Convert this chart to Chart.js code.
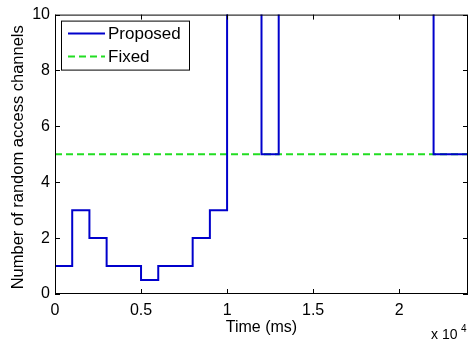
<!DOCTYPE html>
<html><head><meta charset="utf-8">
<script src="https://cdn.jsdelivr.net/npm/chart.js@4"></script>
<style>html,body{margin:0;padding:0;background:#fff}#wrap{width:470px;height:339px}</style>
</head><body><div id="wrap"><canvas id="c" width="470" height="339"></canvas></div>
<script>
const timeMs = [0,1000,2000,3000,5000,6000,8000,9000,10000,12000,13000,22000,24000];
const proposed = [1,3,2,1,0.5,1,2,3,14,5,14,5,5];
const fixedX = [0,24000];
const fixedY = [5,5];
const xTicks = [0,5000,10000,15000,20000];
const yTicks = [0,2,4,6,8,10];
const seriesNames = ['Proposed','Fixed'];
const xTitle = 'Time (ms)';
const yTitle = 'Number of random access channels';

const FONT = '"Liberation Sans", Arial, sans-serif';

const boxPlugin = {
  id:'box',
  afterDraw(chart){
    const {ctx, chartArea:a, scales:{x,y}} = chart;
    ctx.save();
    ctx.strokeStyle='#000'; ctx.lineWidth=1;
    ctx.strokeRect(a.left+0.5,a.top+0.5,a.right-a.left-1,a.bottom-a.top-1);
    ctx.beginPath();
    xTicks.forEach(v=>{const px=Math.round(x.getPixelForValue(v))+0.5;
      ctx.moveTo(px,a.bottom);ctx.lineTo(px,a.bottom-5);
      ctx.moveTo(px,a.top);ctx.lineTo(px,a.top+5);});
    yTicks.forEach(v=>{const py=Math.round(y.getPixelForValue(v))+0.5;
      ctx.moveTo(a.left,py);ctx.lineTo(a.left+5,py);
      ctx.moveTo(a.right,py);ctx.lineTo(a.right-5,py);});
    ctx.stroke();
    // legend
    const lx=a.left+6, ly=a.top+6, lw=129, lh=50;
    ctx.fillStyle='#fff'; ctx.fillRect(lx,ly,lw,lh);
    ctx.strokeRect(lx+0.5,ly+0.5,lw-1,lh-1);
    ctx.font='17px '+FONT; ctx.textBaseline='middle'; ctx.fillStyle='#000';
    ctx.strokeStyle='#0000cc'; ctx.lineWidth=2; ctx.setLineDash([]);
    ctx.beginPath(); ctx.moveTo(lx+7,ly+13); ctx.lineTo(lx+44,ly+13); ctx.stroke();
    ctx.fillText(seriesNames[0], lx+47, ly+14);
    ctx.strokeStyle='#22dd22'; ctx.setLineDash([7,4]);
    ctx.beginPath(); ctx.moveTo(lx+7,ly+36); ctx.lineTo(lx+44,ly+36); ctx.stroke();
    ctx.setLineDash([]);
    ctx.fillText(seriesNames[1], lx+47, ly+37);
    // axis titles
    ctx.font='16px '+FONT;
    ctx.textAlign='center';
    ctx.fillText(xTitle, (a.left+a.right)/2, 328);
    ctx.save();
    ctx.translate(18,(a.top+a.bottom)/2+3);
    ctx.rotate(-Math.PI/2);
    ctx.font='16.5px '+FONT;
    ctx.fillText(yTitle,0,0);
    ctx.restore();
    // x10^4
    ctx.textAlign='left';
    ctx.font='14px '+FONT; ctx.textBaseline='alphabetic';
    ctx.fillText('x 10', 431, 339);
    ctx.font='10px '+FONT;
    ctx.fillText('4', 461, 332);
    ctx.restore();
  }
};

new Chart(document.getElementById('c'),{
  type:'line',
  data:{datasets:[
    {label:seriesNames[0],data:timeMs.map((t,i)=>({x:t,y:proposed[i]})),borderColor:'#0000cc',borderWidth:2,stepped:'before',pointRadius:0,fill:false},
    {label:seriesNames[1],data:fixedX.map((t,i)=>({x:t,y:fixedY[i]})),borderColor:'#22dd22',borderWidth:2,borderDash:[7,4],pointRadius:0,fill:false}
  ]},
  plugins:[boxPlugin],
  options:{
    responsive:false,animation:false,devicePixelRatio:1,
    layout:{padding:{top:14,right:2,left:0,bottom:0}},
    plugins:{legend:{display:false},tooltip:{enabled:false}},
    scales:{
      x:{type:'linear',min:0,max:24000,
        afterBuildTicks(s){s.ticks=xTicks.map(v=>({value:v}));},
        afterFit(s){s.height=45;},
        grid:{display:false,tickLength:0},border:{display:false},
        ticks:{color:'#000',font:{size:16,family:FONT},padding:7,maxRotation:0,autoSkip:false,callback:v=>String(v/10000)}},
      y:{type:'linear',min:0,max:10,
        afterBuildTicks(s){s.ticks=yTicks.map(v=>({value:v}));},
        afterFit(s){s.width=55;},
        grid:{display:false,tickLength:0},border:{display:false},
        ticks:{color:'#000',font:{size:16,family:FONT},padding:5}}
    }
  }
});
</script></body></html>
